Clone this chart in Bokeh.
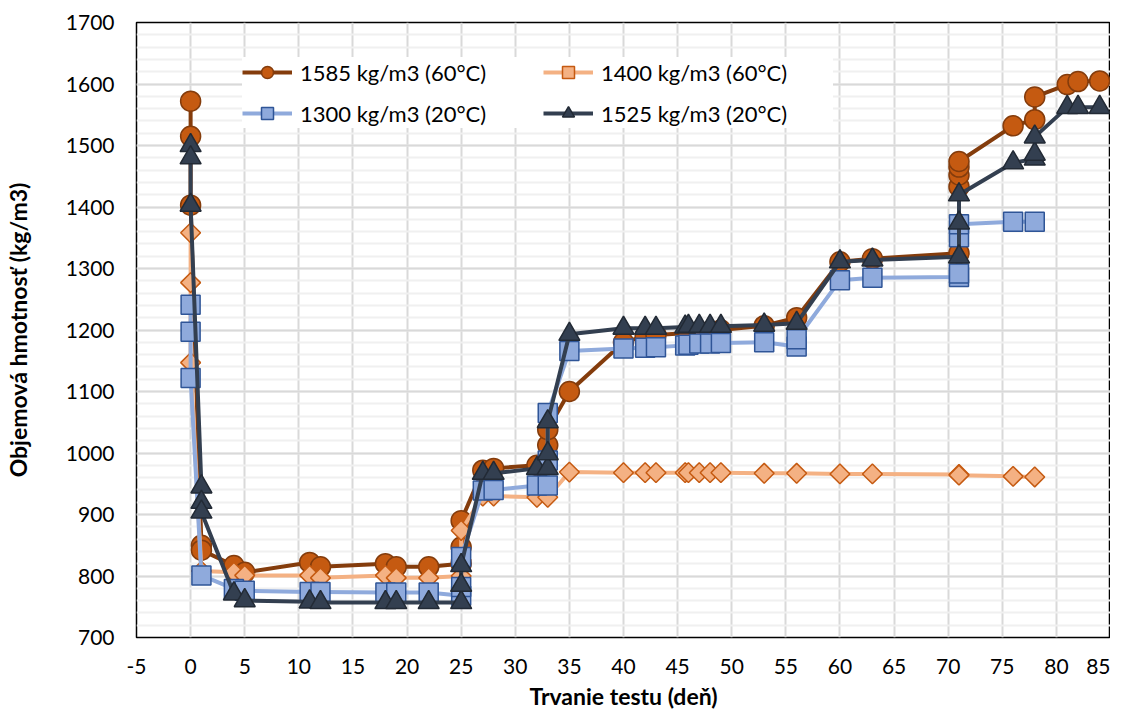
import math
from bokeh.plotting import figure
from bokeh.models import SingleIntervalTicker, Legend, LegendItem, Range1d
from bokeh.embed import file_html
from bokeh.resources import INLINE

# ---- data ----
days_1585 = [0, 0, 0, 1, 1, 4, 5, 11, 12, 18, 19, 22, 25, 25, 25, 27, 28, 32, 33, 33, 35,
             40, 42, 43, 46, 47, 48, 49, 53, 56, 60, 63, 71, 71, 71, 71, 71, 76, 78, 78, 81, 82, 84]
vals_1585 = [1572, 1515, 1403, 850, 842, 817, 806, 822, 815, 820, 815, 815, 820, 847, 890, 972, 975, 980, 1013, 1038, 1100,
             1180, 1190, 1192, 1195, 1197, 1198, 1200, 1207, 1220, 1311, 1316, 1325, 1433, 1452, 1465, 1474, 1532, 1542, 1579, 1599, 1604, 1605]

days_1400 = [0, 0, 0, 1, 4, 5, 11, 12, 18, 19, 22, 25, 25, 25, 27, 28, 32, 33, 35,
             40, 42, 43, 45.7, 46, 47, 48, 49, 53, 56, 60, 63, 71, 71, 76, 78]
vals_1400 = [1358, 1277, 1147, 808, 806, 801, 801, 797, 801, 797, 797, 800, 826, 874, 930, 930, 928, 928, 969,
             968, 968, 968, 968, 968, 968, 968, 968, 967, 967, 966, 966, 965, 964, 962, 961]

days_1300 = [0, 0, 0, 1, 4, 5, 11, 12, 18, 19, 22, 25, 25, 25, 27, 28, 32, 33, 33, 33, 35,
             40, 42, 43, 45.7, 46, 47, 48, 49, 53, 56, 56, 60, 63, 71, 71, 71, 71, 76, 78]
vals_1300 = [1241, 1197, 1122, 801, 779, 776, 774, 774, 773, 773, 773, 768, 782, 831, 939, 940, 947, 947, 988, 1065, 1166,
             1170, 1171, 1172, 1175, 1176, 1178, 1178, 1179, 1180, 1173, 1185, 1281, 1285, 1286, 1292, 1351, 1372, 1376, 1376]

days_1525 = [0, 0, 0, 1, 1, 1, 4, 5, 11, 12, 18, 19, 22, 25, 25, 25, 27, 28, 32, 33, 33, 33, 35,
             40, 42, 43, 45.7, 46, 47, 48, 49, 53, 56, 60, 63, 71, 71, 71, 76, 78, 78, 78, 81, 82, 84]
vals_1525 = [1500, 1480, 1403, 945, 920, 904, 771, 760, 758, 757, 757, 757, 757, 757, 785, 817, 967, 967, 975, 975, 999, 1051, 1193,
             1203, 1203, 1203, 1205, 1206, 1206, 1206, 1206, 1208, 1211, 1311, 1314, 1319, 1374, 1420, 1472, 1478, 1486, 1514, 1562, 1562, 1562]

labels = ["1585 kg/m3 (60°C)", "1400 kg/m3 (60°C)", "1300 kg/m3 (20°C)", "1525 kg/m3 (20°C)"]
x_ticks = list(range(-5, 90, 5))

FONT = "Lato"

p = figure(width=1110, height=712, x_range=Range1d(-5, 85), y_range=Range1d(700, 1700),
           output_backend="svg", toolbar_location=None,
           min_border_left=122, min_border_right=0, min_border_top=22, min_border_bottom=58)

p.background_fill_color = "white"
p.border_fill_color = "white"
p.outline_line_color = "black"
p.outline_line_width = 1.5

p.xaxis.ticker = SingleIntervalTicker(interval=5, num_minor_ticks=0)
p.yaxis.ticker = SingleIntervalTicker(interval=100, num_minor_ticks=5)
p.xaxis.major_label_overrides = {t: str(t) for t in x_ticks}

for ax in (p.xaxis[0], p.yaxis[0]):
    ax.axis_line_color = None
    ax.major_tick_line_color = None
    ax.minor_tick_line_color = None
    ax.major_label_text_font = FONT
    ax.major_label_text_font_size = "21px"
    ax.major_label_text_color = "black"
    ax.axis_label_text_font = FONT
    ax.axis_label_text_font_size = "23px"
    ax.axis_label_text_font_style = "bold"
    ax.axis_label_text_color = "black"

p.xaxis.axis_label = "Trvanie testu (deň)"
p.yaxis.axis_label = "Objemová hmotnosť (kg/m3)"
p.xaxis.major_label_standoff = 15
p.xaxis.axis_label_standoff = 5
p.yaxis.major_label_standoff = 16
p.yaxis.axis_label_standoff = 31

p.xgrid.grid_line_color = "#D9D9D9"
p.xgrid.grid_line_width = 2
p.ygrid.grid_line_color = "#D9D9D9"
p.ygrid.grid_line_width = 2
p.ygrid.minor_grid_line_color = "#F0F0F0"
p.ygrid.minor_grid_line_width = 2

series = [
    (days_1585, vals_1585, "#843C0C", "circle", "#C55A11", "#843C0C", 20, 0),
    (days_1400, vals_1400, "#F4B183", "square", "#F4B183", "#C55A11", 14, math.pi / 4),
    (days_1300, vals_1300, "#8FAADC", "square", "#8FAADC", "#2F5597", 19, 0),
    (days_1525, vals_1525, "#333F50", "triangle", "#333F50", "#222A35", 21, 0),
]

items = []
for (xs, ys, lc, mk, fc, oc, sz, ang), lab in zip(series, labels):
    lr = p.line(xs, ys, line_color=lc, line_width=4)
    sr = p.scatter(xs, ys, marker=mk, size=sz, angle=ang, fill_color=fc, line_color=oc, line_width=1.5)
    items.append(LegendItem(label=lab, renderers=[lr, sr]))

# column-major fill: col1 = 1585, 1300 ; col2 = 1400, 1525
legend = Legend(items=[items[0], items[2], items[1], items[3]], ncols=2,
                location=(106, 509), orientation="vertical")
legend.label_text_font = FONT
legend.label_text_font_size = "22px"
legend.label_text_color = "black"
legend.glyph_width = 50
legend.glyph_height = 30
legend.label_height = 30
legend.label_width = 232
legend.label_standoff = 8
legend.spacing = 11
legend.padding = 15
legend.margin = 0
legend.border_line_color = None
legend.background_fill_color = "white"
legend.background_fill_alpha = 1.0
p.add_layout(legend, "center")

open("out.html", "w").write(file_html(p, INLINE))
